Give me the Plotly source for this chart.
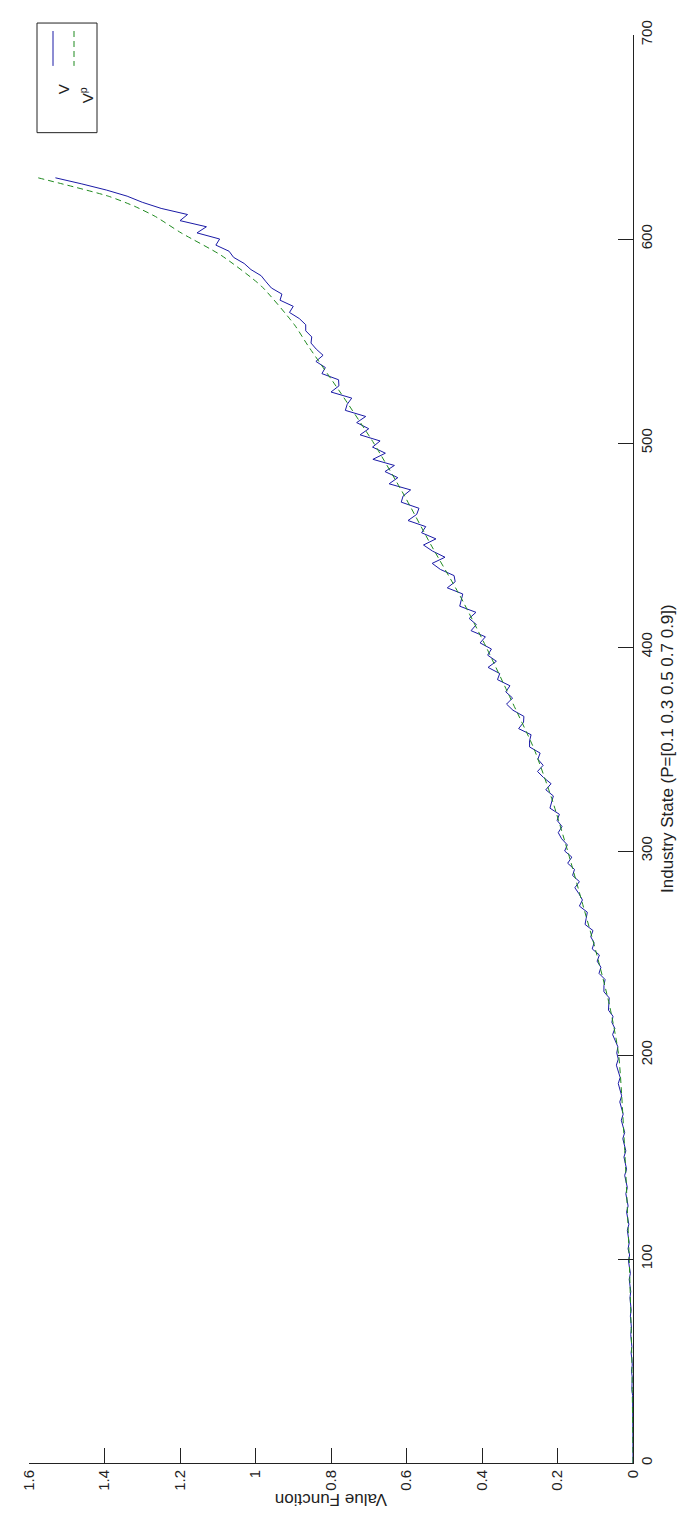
import plotly.graph_objects as go

# ---------------- data ----------------
# V (noisy value function), sampled every 3 industry states
states_v = list(range(0, 631, 3))
value_v = [
    # 0 .. 99
    0.000, 0.000, 0.001, 0.000, 0.001, 0.001, 0.000, 0.002, 0.001, 0.001,
    0.002, 0.001, 0.003, 0.002, 0.002, 0.004, 0.002, 0.003, 0.005, 0.003,
    0.004, 0.006, 0.004, 0.005, 0.007, 0.005, 0.006, 0.008, 0.006, 0.007,
    0.010, 0.007, 0.009, 0.012,
    # 102 .. 198
    0.009, 0.013, 0.010, 0.012, 0.015, 0.011, 0.014, 0.017, 0.013, 0.016,
    0.019, 0.015, 0.018, 0.022, 0.017, 0.021, 0.024, 0.019, 0.024, 0.027,
    0.022, 0.027, 0.031, 0.026, 0.031, 0.035, 0.030, 0.035, 0.039, 0.034,
    0.040, 0.044, 0.039,
    # 201 .. 297
    0.043, 0.040, 0.048, 0.054, 0.048, 0.056, 0.053, 0.065, 0.064, 0.063,
    0.077, 0.077, 0.074, 0.090, 0.085, 0.095, 0.089, 0.108, 0.103, 0.112,
    0.106, 0.127, 0.124, 0.121, 0.142, 0.134, 0.143, 0.154, 0.142, 0.160,
    0.155, 0.173, 0.162,
    # 300 .. 399
    0.181, 0.174, 0.189, 0.198, 0.188, 0.201, 0.195, 0.220, 0.215, 0.211,
    0.231, 0.217, 0.237, 0.253, 0.238, 0.252, 0.246, 0.274, 0.274, 0.270,
    0.303, 0.290, 0.289, 0.318, 0.335, 0.319, 0.337, 0.326, 0.359, 0.353,
    0.384, 0.362, 0.385, 0.375,
    # 402 .. 498
    0.405, 0.391, 0.429, 0.415, 0.434, 0.416, 0.459, 0.455, 0.451, 0.492,
    0.471, 0.474, 0.510, 0.532, 0.498, 0.531, 0.555, 0.522, 0.560, 0.549,
    0.596, 0.573, 0.567, 0.614, 0.609, 0.589, 0.646, 0.623, 0.657, 0.632,
    0.689, 0.656, 0.690,
    # 501 .. 558
    0.670, 0.723, 0.700, 0.732, 0.708, 0.762, 0.757, 0.745, 0.800, 0.779,
    0.780, 0.824, 0.815, 0.840, 0.821, 0.839, 0.853, 0.851, 0.867, 0.867,
    # 561 .. 630
    0.884, 0.910, 0.900, 0.935, 0.930, 0.958, 0.972, 0.985, 1.012, 1.030,
    1.058, 1.070, 1.105, 1.095, 1.155, 1.130, 1.200, 1.180, 1.250, 1.300,
    1.340, 1.395, 1.460, 1.530,
]

# V^p (smooth approximation)
states_vp = [0, 50, 100, 150, 200, 225, 250, 275, 300, 325, 350, 375, 400,
             425, 450, 475, 500, 525, 548, 558, 577, 592, 603, 611, 616, 621, 630]
value_vp = [0.000, 0.003, 0.010, 0.021, 0.038, 0.063, 0.097, 0.135, 0.173,
            0.214, 0.262, 0.325, 0.389, 0.458, 0.535, 0.608, 0.687, 0.776,
            0.862, 0.897, 0.985, 1.091, 1.197, 1.265, 1.320, 1.390, 1.576]

value_ticks = [0, 0.2, 0.4, 0.6, 0.8, 1, 1.2, 1.4, 1.6]
value_tick_text = ["0", "0.2", "0.4", "0.6", "0.8", "1", "1.2", "1.4", "1.6"]
state_ticks = [0, 100, 200, 300, 400, 500, 600, 700]

x_label = "Industry State (P=[0.1 0.3 0.5 0.7 0.9])"
y_label = "Value Function"
legend_names = ["V", "V<sup>p</sup>"]

BLUE = "#1a1aa6"
GREEN = "#1f8a1f"
FONT = "Liberation Sans, Arial, sans-serif"

# ---------------- figure ----------------
W, H = 685, 1519
PL, PR, PT, PB = 21, 625, 22, 1455


def px(x):
    return (x - PL) / (PR - PL)


def py(y):
    return (PB - y) / (PB - PT)


fig = go.Figure()
fig.add_trace(go.Scatter(x=value_v, y=states_v, mode="lines",
                         line=dict(color=BLUE, width=1), name="V",
                         showlegend=False))
fig.add_trace(go.Scatter(x=value_vp, y=states_vp, mode="lines",
                         line=dict(color=GREEN, width=1, dash="6px,4px",
                                   shape="spline", smoothing=0.6),
                         name="Vp", showlegend=False))

axis_common = dict(showgrid=False, zeroline=False, showline=True,
                   linecolor="#222222", linewidth=1, ticks="inside",
                   ticklen=15, tickwidth=1, tickcolor="#222222",
                   tickfont=dict(family=FONT, size=15, color="#222222"),
                   tickangle=-90)

fig.update_xaxes(range=[1.6, 0], tickvals=value_ticks, ticktext=value_tick_text,
                 mirror=False, **axis_common)
fig.update_yaxes(range=[0, 700], tickvals=state_ticks, side="right",
                 mirror=False, **axis_common)

annotations = [
    dict(text=x_label, x=px(671), y=py(738), xref="paper", yref="paper",
         showarrow=False, textangle=-90,
         font=dict(family=FONT, size=17, color="#222222")),
    dict(text=y_label, x=px(323), y=py(1503), xref="paper", yref="paper",
         showarrow=False, textangle=180,
         font=dict(family=FONT, size=17, color="#222222")),
]

# legend (drawn rotated like the rest of the picture)
bx0, bx1, by0, by1 = 29, 89, 10, 120
lx_v, lx_p = bx0 + 16, bx0 + 37
shapes = [
    dict(type="rect", xref="paper", yref="paper", x0=px(bx0), x1=px(bx1),
         y0=py(by0), y1=py(by1), line=dict(color="#222222", width=1),
         fillcolor="white"),
    dict(type="line", xref="paper", yref="paper", x0=px(lx_v), x1=px(lx_v),
         y0=py(by0 + 8), y1=py(by0 + 43), line=dict(color=BLUE, width=1)),
    dict(type="line", xref="paper", yref="paper", x0=px(lx_p), x1=px(lx_p),
         y0=py(by0 + 8), y1=py(by0 + 43),
         line=dict(color=GREEN, width=1, dash="6px,4px")),
]
annotations += [
    dict(text=legend_names[0], x=px(lx_v), y=py(by0 + 60), xref="paper",
         yref="paper", showarrow=False, textangle=-90,
         font=dict(family=FONT, size=15, color="#222222")),
    dict(text=legend_names[1], x=px(lx_p + 1), y=py(by0 + 63), xref="paper",
         yref="paper", showarrow=False, textangle=-90,
         font=dict(family=FONT, size=15, color="#222222")),
]

fig.update_layout(width=W, height=H, margin=dict(l=PL, r=W - PR, t=PT, b=H - PB),
                  paper_bgcolor="white", plot_bgcolor="white",
                  showlegend=False, annotations=annotations, shapes=shapes)

fig.write_html("out.html")
